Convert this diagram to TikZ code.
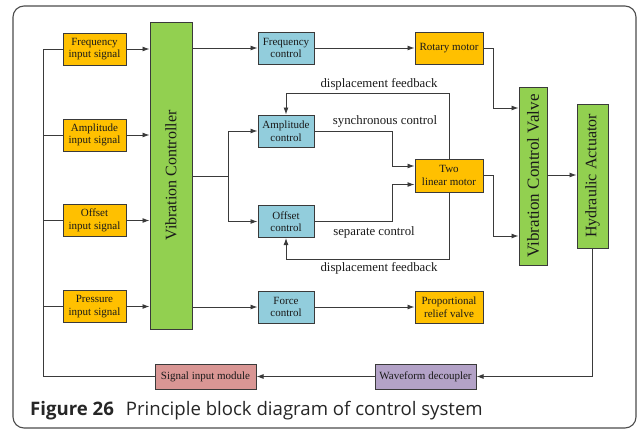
\documentclass[tikz,border=0pt]{standalone}
\usepackage{fontspec}
\setmainfont{Liberation Serif}
\newfontfamily\capfont{Open Sans}
\usetikzlibrary{arrows.meta,calc}
\definecolor{cOrange}{HTML}{FFC000}
\definecolor{cBlue}{HTML}{92CDDC}
\definecolor{cGreen}{HTML}{92D050}
\definecolor{cPink}{HTML}{D99694}
\definecolor{cPurple}{HTML}{B3A2C7}
\definecolor{cLine}{HTML}{3A3A3A}
\definecolor{cText}{HTML}{1A1A1A}
\tikzset{
  blk/.style={draw=cLine, line width=1pt, inner sep=0pt, align=center, text=cText,
    font=\fontsize{11}{12.5}\selectfont},
  inbox/.style={blk, fill=cOrange, minimum width=63pt, minimum height=32pt},
  ctrlbox/.style={blk, fill=cBlue, minimum width=56pt, minimum height=32pt},
  actbox/.style={blk, fill=cOrange, minimum width=68pt, minimum height=32pt},
  greenbox/.style={blk, fill=cGreen},
  vtext/.style={rotate=90, text=cText, font=\fontsize{16}{18}\selectfont},
  wire/.style={draw=cLine, line width=0.9pt},
  arr/.style={wire, -{Latex[length=7pt,width=5pt]}},
  lbl/.style={text=cText, font=\fontsize{12.8}{14}\selectfont, inner sep=0pt},
}
\begin{document}
\begin{tikzpicture}[x=1pt,y=-1pt]
\useasboundingbox (0,0) rectangle (637,429);
\draw[draw=black!70, line width=1.1pt, rounded corners=11pt] (13,6) rectangle (636,428);

% input signals
\node[inbox] (fin) at (94.5,49) {Frequency\\input signal};
\node[inbox] (ain) at (94.5,135) {Amplitude\\input signal};
\node[inbox] (oin) at (94.5,220.5) {Offset\\input signal};
\node[inbox] (pin) at (94.5,306.5) {Pressure\\input signal};

% vibration controller
\node[greenbox, minimum width=42pt, minimum height=307pt] (vc) at (171,175.5) {};
\node[vtext] (vct) at (vc.center) {Vibration Controller};

% control boxes
\node[ctrlbox] (fc) at (286,48) {Frequency\\control};
\node[ctrlbox] (ac) at (286,131) {Amplitude\\control};
\node[ctrlbox] (oc) at (286,221.5) {Offset\\control};
\node[ctrlbox] (frc) at (286,307) {Force\\control};

% actuators
\node[actbox] (rm) at (449,48) {Rotary motor};
\node[actbox, minimum height=33pt] (tlm) at (449,175.5) {Two\\linear motor};
\node[actbox] (prv) at (449,307) {Proportional\\relief valve};

% valve and actuator
\node[greenbox, minimum width=28pt, minimum height=178pt] (vcv) at (533,176) {};
\node[vtext, font=\fontsize{17}{19}\selectfont] (vcvt) at (vcv.center) {Vibration Control Valve};
\node[greenbox, minimum width=31pt, minimum height=144pt] (ha) at (592.5,176) {};
\node[vtext] (hat) at (ha.center) {Hydraulic Actuator};

% feedback modules
\node[blk, fill=cPink, minimum width=101pt, minimum height=25pt] (sim) at (205.5,376.5) {Signal input module};
\node[blk, fill=cPurple, minimum width=101pt, minimum height=25pt] (wd) at (425.5,376.5) {Waveform decoupler};

% inputs -> controller
\foreach \n in {fin,ain,oin,pin}{
  \draw[arr] (\n.east) -- (\n.east -| vc.west);
}
% bus
\coordinate (bustop) at (43,49);
\draw[wire] (sim.west) -| (bustop) -- (fin.west);
\foreach \n in {ain,oin,pin}{
  \draw[wire] (bustop |- \n.west) -- (\n.west);
}

% controller outputs
\draw[arr] (vc.east |- fc.west) -- (fc.west);
\coordinate (split) at (228,176);
\draw[wire] (vc.east |- split) -- (split);
\draw[arr] (split) |- (ac.west);
\draw[arr] (split) |- (oc.west);
\draw[arr] (vc.east |- frc.west) -- (frc.west);

\draw[arr] (fc.east) -- (rm.west);
\draw[arr] (frc.east) -- (prv.west);

% to two linear motor
\draw[arr] (ac.east) -- ++(78,0) |- (tlm.west |- 0,166);
\draw[arr] (oc.east) -- ++(78,0) |- (tlm.west |- 0,184.5);
\node[lbl] (sync) at (385,121) {synchronous control};
\node[lbl] (sep) at (374,232) {separate control};

% displacement feedback
\draw[arr] (tlm.north) |- (ac.north |- 0,93) -- (ac.north);
\draw[arr] (tlm.south) |- (oc.south |- 0,259) -- (oc.south);
\node[lbl] (fb1) at (379,84) {displacement feedback};
\node[lbl] (fb2) at (379,268) {displacement feedback};

% to valve
\draw[arr] (rm.east) -- ++(10,0) |- (vcv.west |- 0,108);
\draw[arr] (tlm.east) -- ++(10,0) |- (vcv.west |- 0,236);
\draw[arr] (vcv.east |- 0,175) -- (ha.west |- 0,175);

% return path
\draw[arr] (ha.south) |- (wd.east);
\draw[arr] (wd.west) -- (sim.east);

% caption
\node[anchor=base west, inner sep=0pt, text=black!85, font=\capfont\fontsize{18.6}{21}\selectfont] (cap) at (30,415.5)
  {\textbf{Figure 26}\hspace{12pt}Principle block diagram of control system};
\end{tikzpicture}
\end{document}
